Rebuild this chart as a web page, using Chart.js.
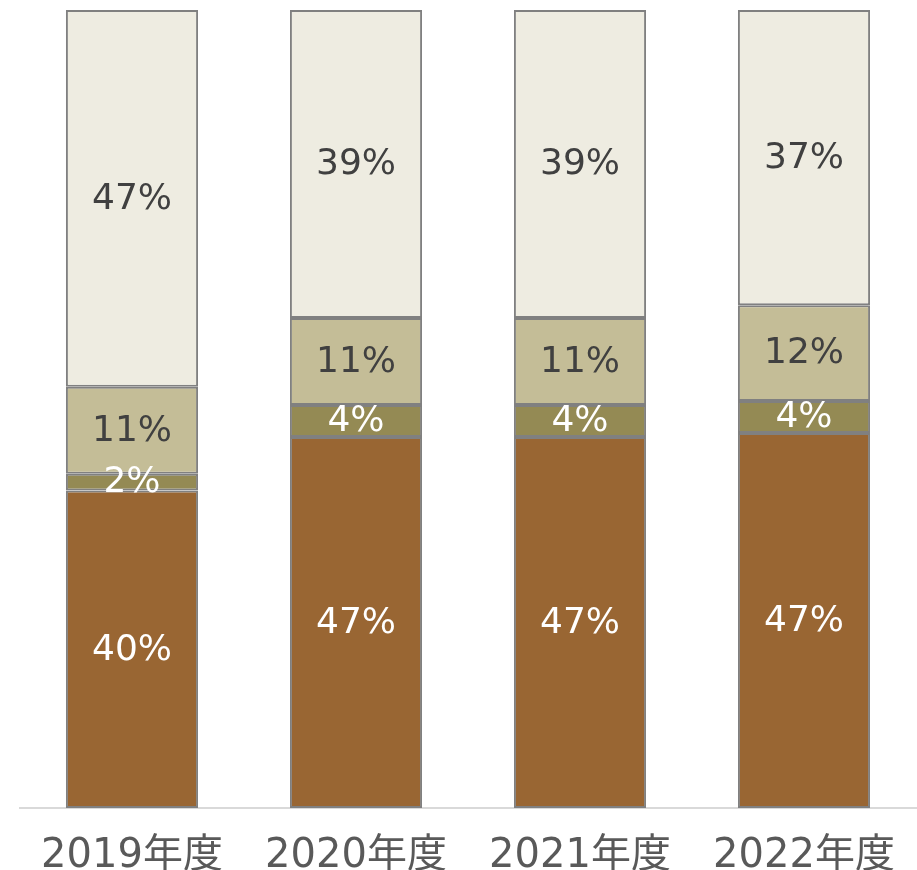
<!DOCTYPE html>
<html>
<head>
<meta charset="utf-8">
<script src="https://cdn.jsdelivr.net/npm/chart.js@4"></script>
<style>
    html, body { margin: 0; padding: 0; background: #ffffff; }
    canvas { display: block; }
</style>
</head>
<body>
<canvas id="shareChart" width="917" height="870"></canvas>
<script>
const years = ['2019年度', '2020年度', '2021年度', '2022年度'];

// shares in %, bottom segment first
const brownShare = [39.8, 46.5, 46.5, 47.0];
const oliveShare = [2.1, 4.0, 4.0, 4.0];
const tanShare = [10.9, 10.9, 10.9, 12.0];
const lightShare = [47.2, 38.6, 38.6, 37.0];

const labelFont = '"DejaVu Sans", "Noto Sans CJK JP", sans-serif';

// draws the % text in the middle of each segment
const segmentLabels = {
    id: 'segmentLabels',
    afterDatasetsDraw(chart) {
        const ctx = chart.ctx;
        ctx.save();
        ctx.font = '36px ' + labelFont;
        ctx.textAlign = 'center';
        ctx.textBaseline = 'middle';
        chart.data.datasets.forEach((ds, i) => {
            const meta = chart.getDatasetMeta(i);
            meta.data.forEach((bar, j) => {
                const y = (bar.y + bar.base) / 2;
                ctx.fillStyle = ds.labelColor;
                ctx.fillText(Math.round(ds.data[j]) + '%', bar.x, y + 1);
            });
        });
        ctx.restore();
    }
};

function segment(data, color, labelColor) {
    return {
        data: data,
        backgroundColor: color,
        borderColor: '#808080',
        borderWidth: 2,
        borderSkipped: false,
        labelColor: labelColor,
        categoryPercentage: 1,
        barPercentage: 0.59
    };
}

new Chart(document.getElementById('shareChart'), {
    type: 'bar',
    data: {
        labels: years,
        datasets: [
            segment(brownShare, '#996633', '#ffffff'),
            segment(oliveShare, '#948a54', '#ffffff'),
            segment(tanShare, '#c4bd97', '#404040'),
            segment(lightShare, '#eeece1', '#404040')
        ]
    },
    options: {
        responsive: false,
        animation: false,
        layout: { padding: { top: 10, left: 20, right: 1, bottom: 0 } },
        plugins: {
            legend: { display: false },
            tooltip: { enabled: false }
        },
        scales: {
            x: {
                stacked: true,
                grid: { display: false, drawTicks: false },
                border: { display: true, color: '#d9d9d9', width: 2 },
                ticks: {
                    color: '#595959',
                    font: { size: 40, family: labelFont },
                    padding: 25,
                    maxRotation: 0,
                    autoSkip: false
                },
                afterFit(scale) {
                    scale.height = 62;
                    scale.paddingLeft = 0;
                    scale.paddingRight = 0;
                }
            },
            y: {
                stacked: true,
                display: false,
                min: 0,
                max: 100
            }
        }
    },
    plugins: [segmentLabels]
});
</script>
</body>
</html>
